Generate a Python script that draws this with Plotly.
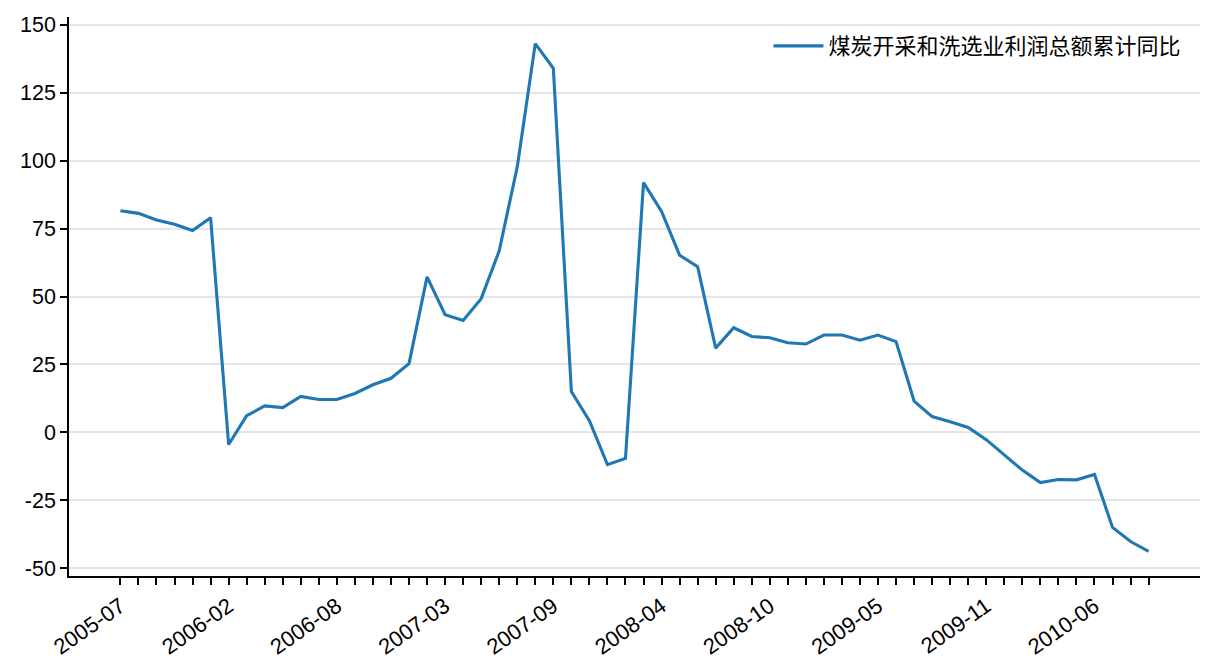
import plotly.graph_objects as go

# 月份(1月与2月合并公布, 所以没有1月)
months = [
    "2005-07", "2005-08", "2005-09", "2005-10", "2005-11", "2005-12",
    "2006-02", "2006-03", "2006-04", "2006-05", "2006-06", "2006-07",
    "2006-08", "2006-09", "2006-10", "2006-11", "2006-12",
    "2007-02", "2007-03", "2007-04", "2007-05", "2007-06", "2007-07",
    "2007-08", "2007-09", "2007-10", "2007-11", "2007-12",
    "2008-02", "2008-03", "2008-04", "2008-05", "2008-06", "2008-07",
    "2008-08", "2008-09", "2008-10", "2008-11", "2008-12",
    "2009-02", "2009-03", "2009-04", "2009-05", "2009-06", "2009-07",
    "2009-08", "2009-09", "2009-10", "2009-11", "2009-12",
    "2010-02", "2010-03", "2010-04", "2010-05", "2010-06", "2010-07",
    "2010-08", "2010-09",
]

# 煤炭开采和洗选业利润总额累计同比 (%)
profit_yoy = [
    81.6, 80.6, 78.2, 76.6, 74.3, 79.0,
    -4.5, 6.1, 9.7, 9.1, 13.2, 12.1,
    12.1, 14.3, 17.5, 19.9, 25.3,
    57.2, 43.3, 41.2, 49.2, 66.8, 97.7,
    143.1, 134.0, 15.0, 4.3, -11.9,
    -9.6, 91.9, 81.3, 65.2, 61.0, 31.0,
    38.5, 35.3, 34.8, 33.0, 32.5,
    35.8, 35.8, 33.9, 35.8, 33.4, 11.5,
    5.8, 3.9, 1.8, -2.7, -8.2,
    -13.9, -18.5, -17.4, -17.5, -15.5, -35.0,
    -40.2, -43.8,
]

series_name = "煤炭开采和洗选业利润总额累计同比"

# 只显示部分月份标签, 刻度线每个月都有
tick_labels = ["2005-07", "2006-02", "2006-08", "2007-03", "2007-09",
               "2008-04", "2008-10", "2009-05", "2009-11", "2010-06"]
tick_text = [m if m in tick_labels else "" for m in months]

# y轴刻度, 用普通减号
y_ticks = [-50, -25, 0, 25, 50, 75, 100, 125, 150]
y_tick_text = [str(v) for v in y_ticks]

fig = go.Figure()
fig.add_trace(go.Scatter(
    x=months,
    y=profit_yoy,
    mode="lines",
    name=series_name,
    line=dict(color="#1f77b4", width=3.1),
))

n = len(months)
pad = (n - 1) * 0.05

fig.update_layout(
    width=1216,
    height=672,
    margin=dict(l=69, r=16, t=17, b=96),
    paper_bgcolor="white",
    plot_bgcolor="white",
    font=dict(family="Arial, Liberation Sans, sans-serif", size=22, color="black"),
    showlegend=True,
    legend=dict(
        x=0.988, y=0.948, xanchor="right", yanchor="middle",
        itemwidth=50,
        bgcolor="rgba(0,0,0,0)",
        font=dict(family="Noto Sans CJK SC", size=22, color="black"),
    ),
)

fig.update_xaxes(
    type="category",
    range=[-pad, n - 1 + pad],
    tickmode="array",
    tickvals=months,
    ticktext=tick_text,
    tickangle=-35,
    ticks="outside",
    ticklen=7,
    tickwidth=1.6,
    tickcolor="black",
    showline=True,
    linecolor="black",
    linewidth=1.6,
    showgrid=False,
    zeroline=False,
    automargin=False,
    tickfont=dict(size=22),
)

fig.update_yaxes(
    range=[-52.9, 152.9],
    tickmode="array",
    tickvals=y_ticks,
    ticktext=y_tick_text,
    ticks="outside",
    ticklen=7,
    tickwidth=1.6,
    tickcolor="black",
    showline=True,
    linecolor="black",
    linewidth=1.6,
    showgrid=True,
    gridcolor="#e5e5e5",
    gridwidth=1.6,
    zeroline=False,
    automargin=False,
    tickfont=dict(size=21.5),
)

# 去掉页面默认边距, 让图正好占满窗口
fig.write_html(
    "out.html",
    config={"displayModeBar": False},
    post_script="document.body.style.margin='0';document.body.style.overflow='hidden';",
)
